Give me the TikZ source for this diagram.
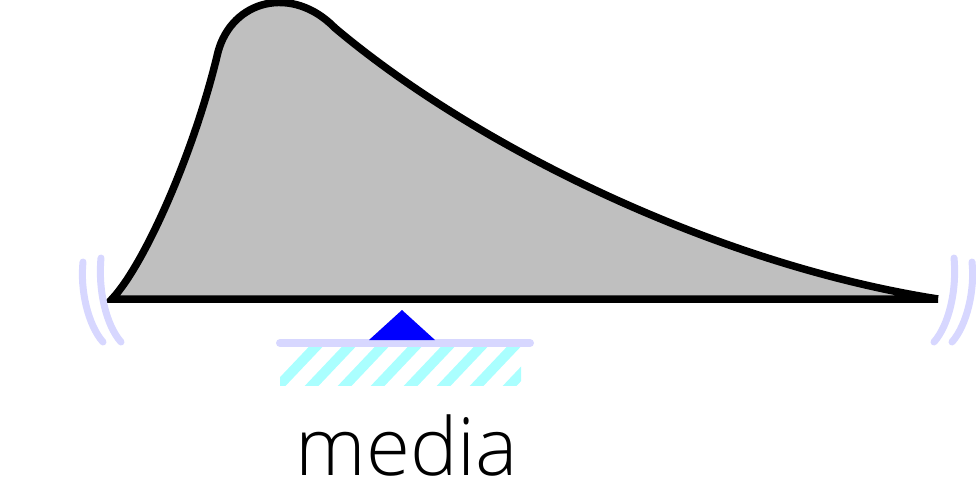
\documentclass[tikz,border=0pt]{standalone}
\usepackage{fontspec}
\setmainfont{Open Sans Light}
\begin{document}
\begin{tikzpicture}[x=1pt,y=-1pt,
  vib/.style={line width=7pt,draw={rgb,255:red,215;green,215;blue,255},line cap=round},
  pulse/.style={line width=7.5pt,draw=black,fill={rgb,255:red,191;green,191;blue,191},line join=miter,miter limit=10},
  mediabar/.style={line width=8pt,draw={rgb,255:red,215;green,215;blue,255},line cap=round},
  hatch/.style={line width=10pt,draw={rgb,255:red,170;green,255;blue,255}}]
\useasboundingbox (0,0) rectangle (976,499);
% hatched medium
\begin{scope}
  \clip (280,347) rectangle (521,385);
  \foreach \k in {0,...,11}{
    \draw[hatch] ({270+\k*33},395) -- ({270+\k*33+55},337);
  }
\end{scope}
\draw[mediabar] (280,343) coordinate (m1) -- (530,343) coordinate (m2);
% triangle
\fill[blue] (369,340) coordinate (t1) -- (402,310) coordinate (t2) -- (435,340) coordinate (t3) -- cycle;
% pulse
\draw[pulse] (938,299) coordinate (b) -- (112,299) coordinate (a)
  .. controls (145,264) and (195,150) .. (218,52)
  .. controls (232,0) and (292,-16) .. (335,28)
  .. controls (480,150) and (720,265) .. (938,299);
% vibration marks
\draw[vib] (83,262) .. controls (80,290) and (88,325) .. (103,342);
\draw[vib] (101,258) .. controls (98,290) and (106,325) .. (121,342);
\draw[vib] (954,258) .. controls (957,290) and (949,325) .. (934,342);
\draw[vib] (972,262) .. controls (975,290) and (967,325) .. (952,342);
\node[anchor=base,font=\fontsize{80}{90}\selectfont,inner sep=0pt] (lbl) at (407,475) {media};
\end{tikzpicture}
\end{document}
